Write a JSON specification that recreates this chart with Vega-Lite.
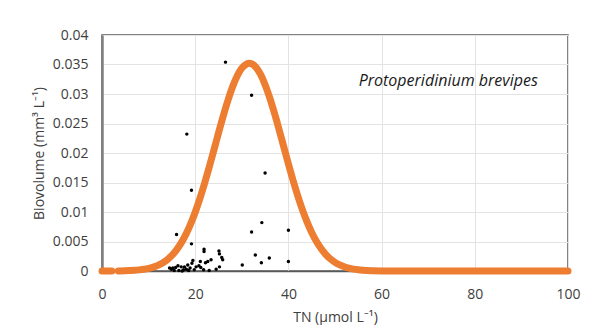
{
  "$schema": "https://vega.github.io/schema/vega-lite/v6.json",
  "width": 466,
  "height": 236,
  "autosize": {"type": "none"},
  "padding": {"left": 102, "top": 35, "right": 42, "bottom": 54},
  "background": "white",
  "config": {
    "font": "Open Sans",
    "view": {"stroke": "#595959", "strokeWidth": 1.5},
    "axis": {"labelColor": "#404040", "titleColor": "#404040", "labelFontSize": 14, "titleFontSize": 14, "titleFontWeight": "normal", "gridColor": "#e3e3e3", "gridWidth": 1, "ticks": false, "labelOverlap": false, "labelFlush": false}
  },
  "datasets": {
    "curve": [
      {"tn": 0, "bv": 0, "seg": "a"}, {"tn": 0.6, "bv": 0, "seg": "a"}, {"tn": 1.2, "bv": 0, "seg": "a"}, {"tn": 1.8, "bv": 0, "seg": "a"}, {"tn": 2.1, "bv": 0, "seg": "a"},
      {"tn": 3.5, "bv": 0.00001, "seg": "b"}, {"tn": 5, "bv": 0.00005, "seg": "b"}, {"tn": 6, "bv": 0.00008, "seg": "b"}, {"tn": 7, "bv": 0.00012, "seg": "b"}, {"tn": 8, "bv": 0.00019, "seg": "b"}, {"tn": 9, "bv": 0.00029, "seg": "b"}, {"tn": 10, "bv": 0.00044, "seg": "b"},
      {"tn": 11, "bv": 0.00066, "seg": "b"}, {"tn": 12, "bv": 0.00096, "seg": "b"}, {"tn": 13, "bv": 0.00137, "seg": "b"}, {"tn": 14, "bv": 0.00192, "seg": "b"}, {"tn": 15, "bv": 0.00265, "seg": "b"},
      {"tn": 16, "bv": 0.00359, "seg": "b"}, {"tn": 17, "bv": 0.00476, "seg": "b"}, {"tn": 18, "bv": 0.0062, "seg": "b"}, {"tn": 19, "bv": 0.00793, "seg": "b"}, {"tn": 20, "bv": 0.00996, "seg": "b"},
      {"tn": 21, "bv": 0.01226, "seg": "b"}, {"tn": 22, "bv": 0.01483, "seg": "b"}, {"tn": 23, "bv": 0.01759, "seg": "b"}, {"tn": 24, "bv": 0.02047, "seg": "b"}, {"tn": 25, "bv": 0.02339, "seg": "b"},
      {"tn": 26, "bv": 0.02623, "seg": "b"}, {"tn": 27, "bv": 0.02886, "seg": "b"}, {"tn": 28, "bv": 0.03117, "seg": "b"}, {"tn": 29, "bv": 0.03304, "seg": "b"}, {"tn": 30, "bv": 0.03437, "seg": "b"},
      {"tn": 31, "bv": 0.03508, "seg": "b"}, {"tn": 31.6, "bv": 0.0352, "seg": "b"}, {"tn": 32, "bv": 0.03515, "seg": "b"}, {"tn": 33, "bv": 0.03456, "seg": "b"}, {"tn": 34, "bv": 0.03335, "seg": "b"}, {"tn": 35, "bv": 0.03158, "seg": "b"},
      {"tn": 36, "bv": 0.02935, "seg": "b"}, {"tn": 37, "bv": 0.02677, "seg": "b"}, {"tn": 38, "bv": 0.02397, "seg": "b"}, {"tn": 39, "bv": 0.02106, "seg": "b"}, {"tn": 40, "bv": 0.01816, "seg": "b"},
      {"tn": 41, "bv": 0.01536, "seg": "b"}, {"tn": 42, "bv": 0.01276, "seg": "b"}, {"tn": 43, "bv": 0.0104, "seg": "b"}, {"tn": 44, "bv": 0.00832, "seg": "b"}, {"tn": 45, "bv": 0.00653, "seg": "b"},
      {"tn": 46, "bv": 0.00503, "seg": "b"}, {"tn": 47, "bv": 0.0038, "seg": "b"}, {"tn": 48, "bv": 0.00282, "seg": "b"}, {"tn": 49, "bv": 0.00205, "seg": "b"}, {"tn": 50, "bv": 0.00147, "seg": "b"},
      {"tn": 51, "bv": 0.00103, "seg": "b"}, {"tn": 52, "bv": 0.00071, "seg": "b"}, {"tn": 53, "bv": 0.00048, "seg": "b"}, {"tn": 54, "bv": 0.00032, "seg": "b"}, {"tn": 55, "bv": 0.00021, "seg": "b"},
      {"tn": 56, "bv": 0.00013, "seg": "b"}, {"tn": 58, "bv": 0.00005, "seg": "b"}, {"tn": 60, "bv": 0.00002, "seg": "b"}, {"tn": 65, "bv": 0, "seg": "b"}, {"tn": 70, "bv": 0, "seg": "b"},
      {"tn": 80, "bv": 0, "seg": "b"}, {"tn": 90, "bv": 0, "seg": "b"}, {"tn": 100, "bv": 0, "seg": "b"}
    ],
    "obs": [
      {"tn": 26.5, "bv": 0.0354}, {"tn": 32.1, "bv": 0.0298}, {"tn": 18.2, "bv": 0.0232}, {"tn": 35.0, "bv": 0.0166}, {"tn": 19.2, "bv": 0.0137},
      {"tn": 16.0, "bv": 0.0062}, {"tn": 34.3, "bv": 0.0082}, {"tn": 32.1, "bv": 0.0066}, {"tn": 40.0, "bv": 0.0069}, {"tn": 19.2, "bv": 0.0046},
      {"tn": 21.9, "bv": 0.0037}, {"tn": 21.9, "bv": 0.0033}, {"tn": 25.1, "bv": 0.0034}, {"tn": 25.2, "bv": 0.0029}, {"tn": 25.7, "bv": 0.0023},
      {"tn": 25.9, "bv": 0.0019}, {"tn": 23.4, "bv": 0.0019}, {"tn": 22.7, "bv": 0.0016}, {"tn": 22.2, "bv": 0.0014}, {"tn": 21.1, "bv": 0.0016},
      {"tn": 19.5, "bv": 0.0018}, {"tn": 19.3, "bv": 0.0013}, {"tn": 18.4, "bv": 0.001}, {"tn": 17.7, "bv": 0.0007}, {"tn": 17.0, "bv": 0.0007},
      {"tn": 16.3, "bv": 0.0009}, {"tn": 15.8, "bv": 0.0006}, {"tn": 15.2, "bv": 0.0005}, {"tn": 14.9, "bv": 0.0003}, {"tn": 14.5, "bv": 0.0005},
      {"tn": 20.2, "bv": 0.0007}, {"tn": 20.8, "bv": 0.0009}, {"tn": 21.2, "bv": 0.0006}, {"tn": 24.5, "bv": 0.0003}, {"tn": 25.2, "bv": 0.0007},
      {"tn": 18.9, "bv": 0.0005}, {"tn": 18.1, "bv": 0.0003}, {"tn": 32.9, "bv": 0.0027}, {"tn": 35.9, "bv": 0.0022}, {"tn": 34.2, "bv": 0.0014},
      {"tn": 30.1, "bv": 0.001}, {"tn": 40.0, "bv": 0.0016}, {"tn": 16.5, "bv": 0.0001}, {"tn": 17.5, "bv": 0.0002}, {"tn": 19.8, "bv": 0.0002},
      {"tn": 21.8, "bv": 0.0002}, {"tn": 23.0, "bv": 0.0001}, {"tn": 17.2, "bv": 0.0}, {"tn": 15.5, "bv": 0.0001}, {"tn": 18.6, "bv": 0.0001}
    ]
  },
  "layer": [
    {
      "data": {"name": "obs"},
      "mark": {"type": "point", "filled": true, "color": "black", "size": 12, "opacity": 1},
      "encoding": {
        "x": {"field": "tn", "type": "quantitative", "scale": {"domain": [0, 100]},
          "axis": {"title": "TN (µmol L⁻¹)", "values": [0, 20, 40, 60, 80, 100], "tickCount": 12, "domainColor": "#595959", "domainWidth": 1.5, "labelPadding": 16, "titlePadding": 9}},
        "y": {"field": "bv", "type": "quantitative", "scale": {"domain": [0, 0.04]},
          "axis": {"title": "Biovolume (mm³ L⁻¹)", "values": [0, 0.005, 0.01, 0.015, 0.02, 0.025, 0.03, 0.035, 0.04], "tickCount": 12, "format": "~g", "domainColor": "#808080", "domainWidth": 2.5, "labelPadding": 14, "titlePadding": 6}}
      }
    },
    {
      "data": {"name": "curve"},
      "mark": {"type": "line", "color": "#ED7D31", "strokeWidth": 7, "strokeCap": "round", "strokeJoin": "round", "interpolate": "monotone"},
      "encoding": {
        "x": {"field": "tn", "type": "quantitative"},
        "y": {"field": "bv", "type": "quantitative"},
        "detail": {"field": "seg"}
      }
    },
    {
      "data": {"values": [{"label": "Protoperidinium brevipes"}]},
      "mark": {"type": "text", "fontStyle": "italic", "fontSize": 16, "color": "#1a1a1a", "align": "center", "baseline": "middle"},
      "encoding": {
        "x": {"datum": 74.3},
        "y": {"datum": 0.0322},
        "text": {"field": "label"}
      }
    }
  ]
}
